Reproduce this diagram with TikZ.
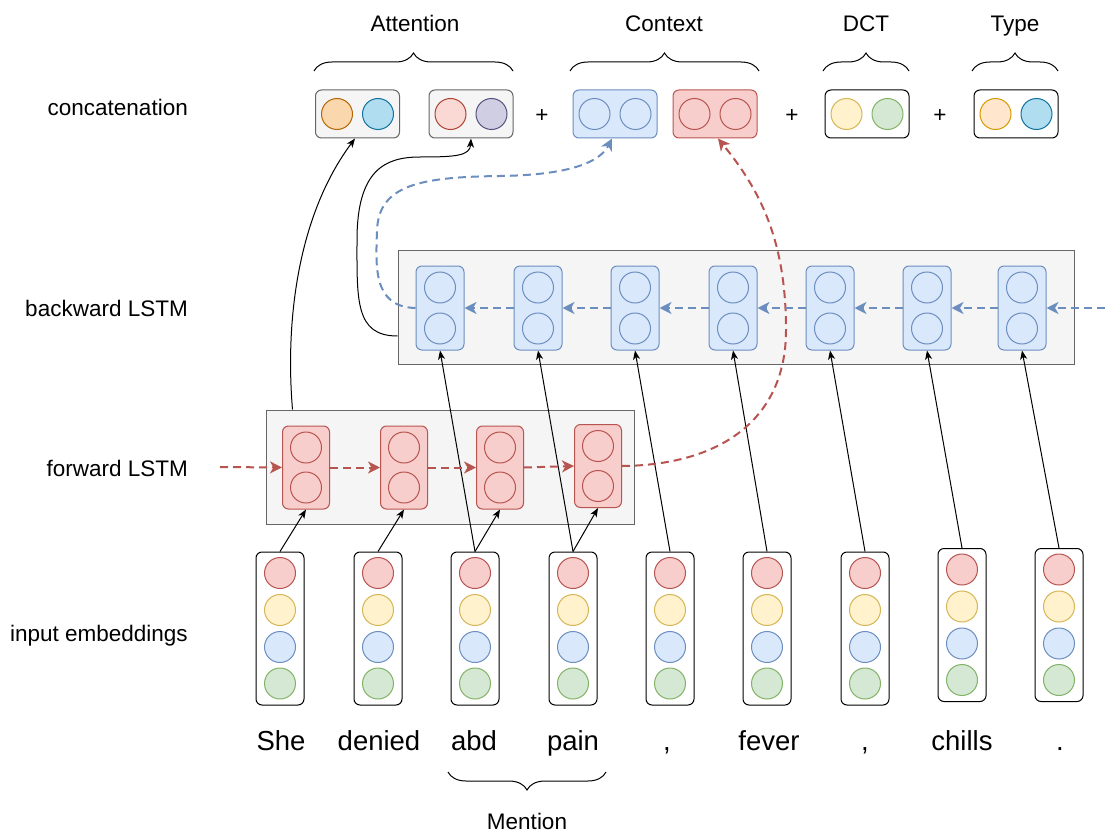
\documentclass[tikz,border=0pt]{standalone}
\usepackage{fontspec}
\setmainfont{Liberation Sans}
\usetikzlibrary{arrows.meta,decorations.pathreplacing}
\definecolor{gfill}{HTML}{F5F5F5}
\definecolor{gstroke}{HTML}{666666}
\definecolor{rfill}{HTML}{F8CECC}
\definecolor{rstroke}{HTML}{B85450}
\definecolor{bfill}{HTML}{DAE8FC}
\definecolor{bstroke}{HTML}{6C8EBF}
\definecolor{yfill}{HTML}{FFF2CC}
\definecolor{ystroke}{HTML}{D6B656}
\definecolor{grfill}{HTML}{D5E8D4}
\definecolor{grstroke}{HTML}{82B366}
\definecolor{ofill}{HTML}{FAD7AC}
\definecolor{ostroke}{HTML}{B46504}
\definecolor{cfill}{HTML}{B1DDF0}
\definecolor{cstroke}{HTML}{10739E}
\definecolor{pfill}{HTML}{FAD9D5}
\definecolor{pstroke}{HTML}{AE4132}
\definecolor{vfill}{HTML}{D0CEE2}
\definecolor{vstroke}{HTML}{56517E}
\definecolor{tfill}{HTML}{FFE6CC}
\definecolor{tstroke}{HTML}{D79B00}
\begin{document}
\begin{tikzpicture}[x=1pt,y=-1pt,
  graybox/.style={draw=gstroke,fill=gfill,line width=1pt,inner sep=0pt},
  fwcell/.style={draw=rstroke,fill=rfill,rounded corners=6pt,line width=1pt,minimum width=47pt,minimum height=83pt,inner sep=0pt},
  bwcell/.style={draw=bstroke,fill=bfill,rounded corners=6pt,line width=1pt,minimum width=48pt,minimum height=84pt,inner sep=0pt},
  embbox/.style={draw=black,fill=white,rounded corners=6pt,line width=1pt,minimum width=48pt,minimum height=153pt,inner sep=0pt},
  topbox/.style={rounded corners=6pt,line width=1pt,minimum width=84pt,minimum height=48pt,inner sep=0pt},
  dot/.style={circle,minimum size=31pt,inner sep=0pt,line width=1pt},
  dred/.style={dot,draw=rstroke,fill=rfill},
  dyel/.style={dot,draw=ystroke,fill=yfill},
  dblu/.style={dot,draw=bstroke,fill=bfill},
  dgrn/.style={dot,draw=grstroke,fill=grfill},
  lbl/.style={font=\fontsize{22.5}{26}\selectfont,anchor=base east,inner sep=0pt},
  ttl/.style={font=\fontsize{22.5}{26}\selectfont,anchor=base,inner sep=0pt},
  word/.style={font=\fontsize{27.5}{32}\selectfont,anchor=base,inner sep=0pt},
  brc/.style={draw=black,line width=1pt,decorate,decoration={brace,amplitude=18pt,aspect=0.5}},
  blk/.style={draw=black,line width=1pt,-{Stealth[length=9pt,width=7pt,inset=2.5pt]}},
  rdash/.style={draw=rstroke,line width=2pt,dash pattern=on 8pt off 5pt,-{Stealth[length=12pt,width=12pt,inset=3.5pt]}},
  bdash/.style={draw=bstroke,line width=2pt,dash pattern=on 8pt off 5pt,-{Stealth[length=12pt,width=12pt,inset=3.5pt]}}
]
\useasboundingbox (0,0) rectangle (1105,832);

% left labels
\node[lbl] (lcat) at (188,116) {concatenation};
\node[lbl] (lbw) at (188,316) {backward LSTM};
\node[lbl] (lfw) at (188,476) {forward LSTM};
\node[lbl] (lemb) at (188,641) {input embeddings};

% top titles and braces
\node[ttl] (tatt) at (415,32) {Attention};
\node[ttl] (tctx) at (664,32) {Context};
\node[ttl] (tdct) at (866,32) {DCT};
\node[ttl] (ttyp) at (1015,32) {Type};
\draw[brc] (314,71) -- (513,71);
\draw[brc] (570,71) -- (759,71);
\draw[brc] (823,71) -- (909,71);
\draw[brc] (972,71) -- (1058,71);

% concatenation row
\node[topbox,draw=gstroke,fill=gfill] (att1) at (357.5,114) {};
\node[dot,draw=ostroke,fill=ofill] (att1a) at (337,114) {};
\node[dot,draw=cstroke,fill=cfill] (att1b) at (378,114) {};
\node[topbox,draw=gstroke,fill=gfill] (att2) at (471,114) {};
\node[dot,draw=pstroke,fill=pfill] (att2a) at (450.5,114) {};
\node[dot,draw=vstroke,fill=vfill] (att2b) at (491.5,114) {};
\node[ttl,anchor=center] (p1) at (542,116) {+};
\node[topbox,draw=bstroke,fill=bfill] (ctxB) at (615,114) {};
\node[dblu] (ctxBa) at (594.5,114) {};
\node[dblu] (ctxBb) at (635.5,114) {};
\node[topbox,draw=rstroke,fill=rfill] (ctxR) at (715,114) {};
\node[dred] (ctxRa) at (694.5,114) {};
\node[dred] (ctxRb) at (735.5,114) {};
\node[ttl,anchor=center] (p2) at (792,116) {+};
\node[topbox,draw=black,fill=white] (dct) at (867,114) {};
\node[dyel] (dcta) at (846.5,114) {};
\node[dgrn] (dctb) at (887.5,114) {};
\node[ttl,anchor=center] (p3) at (940,116) {+};
\node[topbox,draw=black,fill=white] (typ) at (1016,114) {};
\node[dot,draw=tstroke,fill=tfill] (typa) at (995.5,114) {};
\node[dot,draw=cstroke,fill=cfill] (typb) at (1036.5,114) {};

% backward LSTM
\node[graybox,minimum width=676pt,minimum height=114pt] (bwbox) at (736,307) {};
\foreach \i/\x in {1/440,2/538,3/635,4/733,5/830,6/927,7/1022}{
  \node[bwcell] (b\i) at (\x,308) {};
  \node[dblu] (b\i a) at (\x,287.5) {};
  \node[dblu] (b\i b) at (\x,328.5) {};
}

% forward LSTM
\node[graybox,minimum width=368pt,minimum height=114pt] (fwbox) at (450,467) {};
\foreach \i/\x/\y in {1/306/467.5,2/404/467.5,3/500/467.5,4/598/466}{
  \node[fwcell] (f\i) at (\x,\y) {};
  \node[dred] (f\i a) at (\x,{\y-20}) {};
  \node[dred] (f\i b) at (\x,{\y+20}) {};
}

% input embeddings
\foreach \i/\x/\y in {1/280/628.5,2/378/628.5,3/475/628.5,4/573/628.5,5/670/628.5,6/767/628.5,7/865/628.5,8/962/625,9/1059/625}{
  \node[embbox] (e\i) at (\x,\y) {};
  \node[dred] (e\i r) at (\x,{\y-55.5}) {};
  \node[dyel] (e\i y) at (\x,{\y-18.5}) {};
  \node[dblu] (e\i b) at (\x,{\y+18.5}) {};
  \node[dgrn] (e\i g) at (\x,{\y+55}) {};
}

% words
\node[word] (w1) at (281,750) {She};
\node[word] (w2) at (379,750) {denied};
\node[word] (w3) at (474,750) {abd};
\node[word] (w4) at (573,750) {pain};
\node[word] (w5) at (667,750) {,};
\node[word] (w6) at (769,750) {fever};
\node[word] (w7) at (865,750) {,};
\node[word] (w8) at (962,750) {chills};
\node[word] (w9) at (1060,750) {.};
\draw[brc] (606,772) -- (448,772);
\node[ttl] (tmen) at (527,829) {Mention};

% embedding -> forward
\foreach \i in {1,2,3,4}{ \draw[blk] (e\i.north) -- (f\i.south); }
% embedding -> backward
\foreach \i/\j in {3/1,4/2,5/3,6/4,7/5,8/6,9/7}{ \draw[blk] (e\i.north) -- (b\j.south); }

% forward recurrent chain
\coordinate (fin) at (220,467);
\draw[rdash] (fin) -- (f1.west);
\draw[rdash] (f1.east) -- (f2.west);
\draw[rdash] (f2.east) -- (f3.west);
\draw[rdash] (f3.east) -- (f4.west);
\draw[rdash] (f4.east) .. controls (720,465) and (786,420) .. (786,330)
   .. controls (786,240) and (760,190) .. ([xshift=3pt]ctxR.south);

% backward recurrent chain
\coordinate (bin) at (1105,308);
\draw[bdash] (bin) -- (b7.east);
\foreach \i/\j in {7/6,6/5,5/4,4/3,3/2,2/1}{ \draw[bdash] (b\i.west) -- (b\j.east); }
\draw[bdash] (b1.west) .. controls (372,307) and (376,265) .. (377,230)
   .. controls (379,185) and (420,177) .. (500,176)
   .. controls (570,175) and (600,162) .. ([xshift=-3pt]ctxB.south);

% to attention
\draw[blk] ([xshift=27pt]fwbox.north west) .. controls (285,320) and (298,215) .. ([xshift=-2.5pt]att1.south);
\draw[blk] ([yshift=-29pt]bwbox.west) .. controls (355,336) and (357,300) .. (357,240)
   .. controls (357,170) and (385,157) .. (420,157)
   .. controls (455,157) and (470,156) .. (att2.south);
\end{tikzpicture}
\end{document}
